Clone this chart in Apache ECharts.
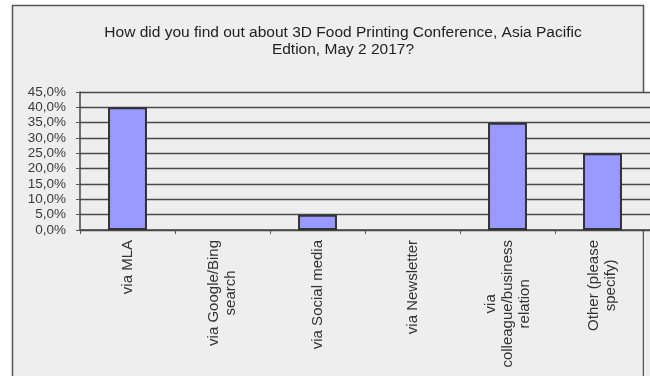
<!DOCTYPE html>
<html>
<head>
<meta charset="utf-8">
<script src="https://cdn.jsdelivr.net/npm/echarts@6/dist/echarts.min.js"></script>
<style>html,body{margin:0;padding:0;background:#fff}#c{width:650px;height:376px}</style>
</head>
<body>
<div id="c"></div>
<script>
const titleText = 'How did you find out about 3D Food Printing Conference, Asia Pacific\nEdtion, May 2 2017?';
const categories = ['via MLA', 'via Google/Bing\nsearch', 'via Social media', 'via Newsletter', 'via\ncolleague/business\nrelation', 'Other (please\nspecify)'];
const values = [0.40, 0, 0.05, 0, 0.35, 0.25];
const yMin = 0, yMax = 0.45, yStep = 0.05;

const barData = values.map(function (v) {
  return v === 0 ? {value: v, itemStyle: {borderWidth: 0}} : v;
});

const chart = echarts.init(document.getElementById('c'), null, {renderer: 'canvas'});
chart.setOption({
  backgroundColor: '#ffffff',
  animation: false,
  title: {
    text: titleText,
    left: 338,
    textAlign: 'center',
    top: 19,
    textStyle: {fontFamily: 'Liberation Sans', fontSize: 15.5, fontWeight: 'normal', color: '#222', lineHeight: 17}
  },
  graphic: [
    {type: 'rect', z: -10, shape: {x: 12.5, y: 5.5, width: 631, height: 380}, style: {fill: '#eeeeee', stroke: '#555', lineWidth: 1.5}},
    {type: 'rect', z: -9, shape: {x: 644, y: 92, width: 10, height: 300}, style: {fill: '#eeeeee'}}
  ],
  grid: {left: 80, right: -2, top: 92, bottom: 146, show: true, backgroundColor: '#eeeeee', borderWidth: 0},
  xAxis: {
    type: 'category',
    data: categories,
    axisLine: {lineStyle: {color: '#444', width: 1.5}},
    axisTick: {show: true, length: 4, lineStyle: {color: '#555'}, alignWithLabel: false},
    axisLabel: {
      rotate: 90,
      interval: 0,
      margin: 10,
      formatter: function (v) { return v.split('\n').map(function (s) { return '{c|' + s + '}'; }).join('\n'); },
      rich: {c: {align: 'center', fontFamily: 'Liberation Sans', fontSize: 15, color: '#333', lineHeight: 17}}
    }
  },
  yAxis: {
    type: 'value',
    min: yMin, max: yMax, interval: yStep,
    axisLine: {show: true, lineStyle: {color: '#444', width: 1.5}},
    axisTick: {show: true, length: 4, lineStyle: {color: '#555'}},
    splitLine: {lineStyle: {color: '#4a4a4a', width: 1.3}},
    axisLabel: {
      margin: 14,
      showMinLabel: true,
      showMaxLabel: true,
      hideOverlap: false,
      fontFamily: 'Liberation Sans',
      fontSize: 13.5,
      color: '#3a3a3a',
      formatter: function (v) { return (v * 100).toFixed(1).replace('.', ',') + '%'; }
    }
  },
  series: [{
    type: 'bar',
    data: barData,
    barWidth: '41%',
    itemStyle: {color: '#9999ff', borderColor: '#333', borderWidth: 2}
  }]
});
</script>
</body>
</html>
